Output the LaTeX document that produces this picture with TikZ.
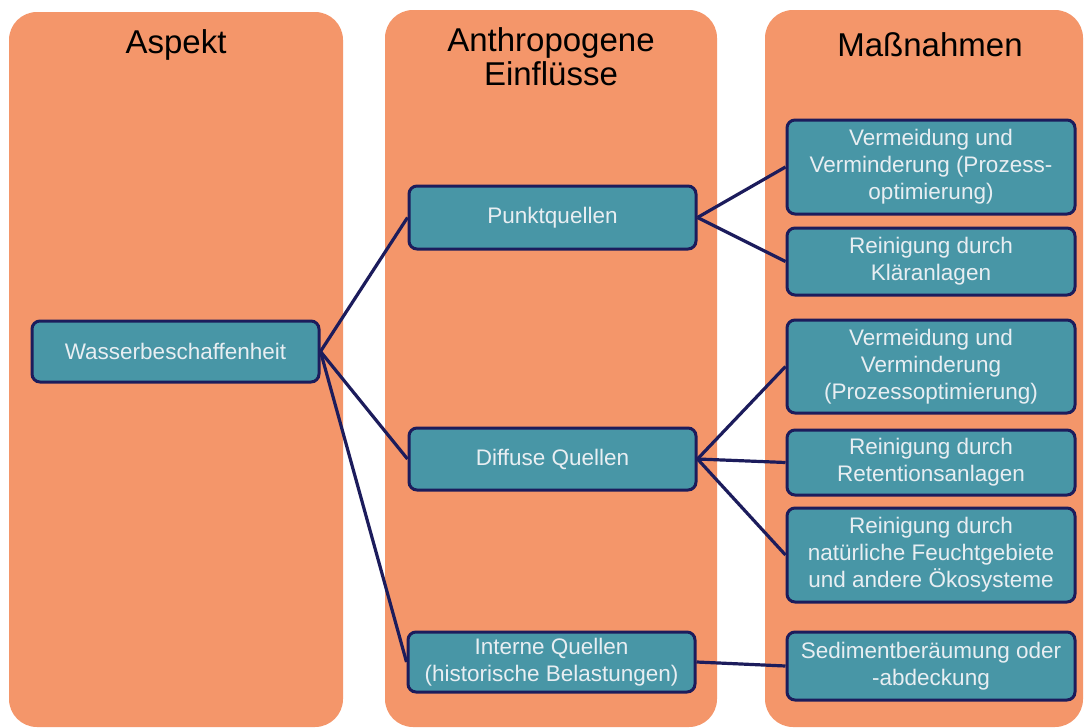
\documentclass[tikz,border=0pt]{standalone}
\usepackage{fontspec}
\setmainfont{Liberation Sans}
\definecolor{colbg}{RGB}{244,150,106}
\definecolor{boxfill}{RGB}{72,150,166}
\definecolor{boxline}{RGB}{28,28,92}
\definecolor{boxtext}{RGB}{232,238,242}
\tikzset{
  colbox/.style={fill=colbg, draw=none, rounded corners=28pt},
  hdr/.style={font=\fontsize{33}{34}\selectfont, align=center, text=black, inner sep=0pt},
  item/.style={draw=boxline, line width=3pt, fill=boxfill, rounded corners=8pt, text=boxtext,
    font=\fontsize{22.5}{27}\selectfont, align=center, inner sep=0pt},
  link/.style={draw=boxline, line width=3.2pt}
}
\begin{document}
\begin{tikzpicture}[x=1pt,y=-1pt]
\useasboundingbox[fill=white] (0,0) rectangle (1084,728);
% columns
\fill[colbox] (9,12) rectangle (343,727);
\fill[colbox] (385,10) rectangle (717,727);
\fill[colbox] (765,10) rectangle (1083,727);
% headers
\node[hdr] (h1) at (176,45) {Aspekt};
\node[hdr] (h2) at (551,57) {Anthropogene\\Einflüsse};
\node[hdr] (h3) at (930,45) {Maßnahmen};
% boxes
\node[item, minimum width=287pt, minimum height=61pt] (wb) at (175.5,351.5) {Wasserbeschaffenheit};
\node[item, minimum width=287pt, minimum height=63pt] (pq) at (552.5,217.5) {Punktquellen};
\node[item, minimum width=287pt, minimum height=62pt] (dq) at (552.5,459) {Diffuse Quellen};
\node[item, minimum width=287pt, minimum height=60pt] (iq) at (551.5,662) {Interne Quellen\\(historische Belastungen)};
\node[item, minimum width=288pt, minimum height=94pt] (m1) at (931,167) {Vermeidung und\\Verminderung (Prozess-\\optimierung)};
\node[item, minimum width=288pt, minimum height=67pt] (m2) at (931,261.5) {Reinigung durch\\Kläranlagen};
\node[item, minimum width=288pt, minimum height=93pt] (m3) at (931,366.5) {Vermeidung und\\Verminderung\\(Prozessoptimierung)};
\node[item, minimum width=288pt, minimum height=65pt] (m4) at (931,462.5) {Reinigung durch\\Retentionsanlagen};
\node[item, minimum width=288pt, minimum height=94pt] (m5) at (931,555) {Reinigung durch\\natürliche Feuchtgebiete\\und andere Ökosysteme};
\node[item, minimum width=288pt, minimum height=68pt] (m6) at (931,666) {Sedimentberäumung oder\\-abdeckung};
% connectors
\begin{scope}[on background layer/.style={}]
\draw[link] (wb.east) -- (pq.west);
\draw[link] (wb.east) -- (dq.west);
\draw[link] (wb.east) -- (iq.west);
\draw[link] (pq.east) -- (m1.west);
\draw[link] (pq.east) -- (m2.west);
\draw[link] (dq.east) -- (m3.west);
\draw[link] (dq.east) -- (m4.west);
\draw[link] (dq.east) -- (m5.west);
\draw[link] (iq.east) -- (m6.west);
\end{scope}
\end{tikzpicture}
\end{document}
